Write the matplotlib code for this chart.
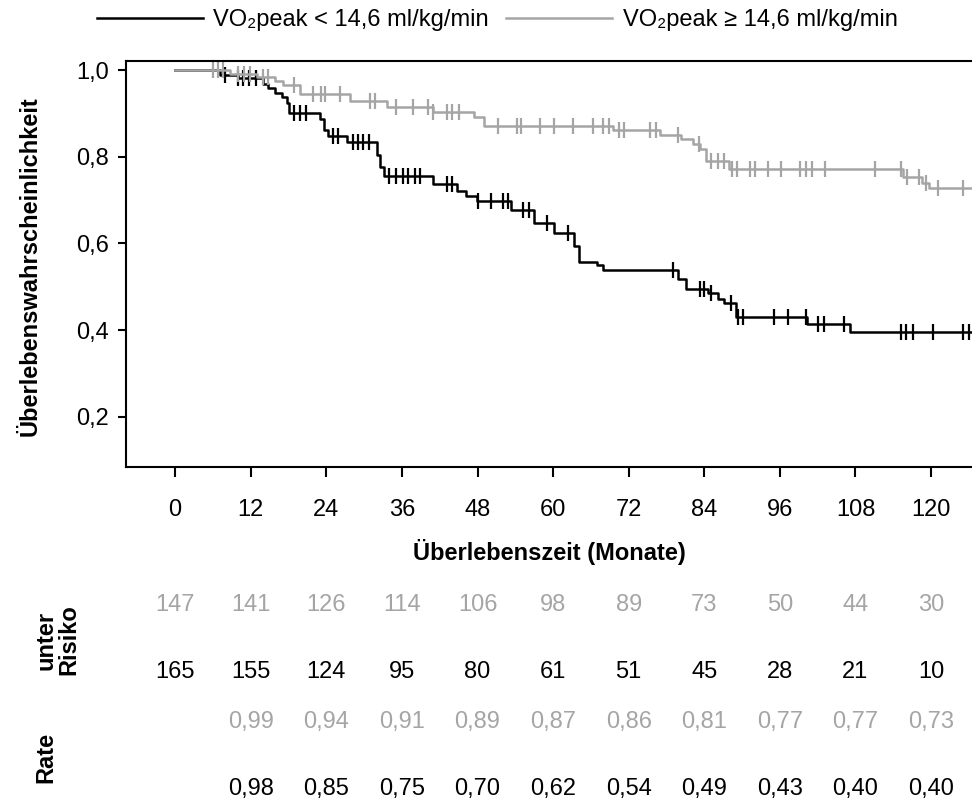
import numpy as np
import matplotlib
matplotlib.use("Agg")
import matplotlib.pyplot as plt
from matplotlib.lines import Line2D
from matplotlib.transforms import blended_transform_factory

plt.rcParams['font.family'] = ['Liberation Sans', 'DejaVu Sans']

# Kaplan-Meier steps (months, survival)
low_t = [0, 7.2, 10.0, 14.0, 14.8, 15.9, 17.0, 17.8, 18.1, 23.0, 23.6, 24.2, 27.3,
         32.1, 32.6, 33.1, 41.0, 44.8, 46.1, 47.9, 53.3, 56.9, 60.1, 63.3, 64.1,
         67.0, 68.0, 79.8, 81.1, 84.6, 86.2, 87.1, 89.0, 100.3, 107.2, 130]
low_s = [1.0, 0.988, 0.982, 0.967, 0.958, 0.947, 0.937, 0.924, 0.901, 0.888, 0.862,
         0.847, 0.835, 0.803, 0.776, 0.756, 0.737, 0.720, 0.710, 0.699, 0.676, 0.646,
         0.625, 0.594, 0.558, 0.551, 0.539, 0.518, 0.495, 0.486, 0.472, 0.463, 0.431,
         0.415, 0.396, 0.396]
low_cens = [7.9, 10.0, 10.8, 11.8, 12.9, 18.8, 19.9, 20.7, 25.1, 25.9, 28.3, 29.1,
            29.9, 30.8, 34.0, 35.0, 36.1, 37.0, 38.0, 38.9, 43.2, 44.0, 48.0, 50.1,
            52.0, 52.9, 55.2, 56.1, 59.1, 62.3, 79.0, 83.3, 84.0, 85.1, 88.2, 89.3,
            90.1, 95.1, 97.3, 100.2, 102.1, 103.0, 106.2, 115.3, 116.1, 117.2, 120.3,
            125.1, 126.1]

high_t = [0, 8.7, 13.0, 15.9, 17.1, 19.9, 27.8, 33.7, 41.0, 47.5, 49.0, 69.5, 76.9,
          80.3, 82.2, 83.3, 84.2, 87.9, 115.6, 118.5, 119.7, 130]
high_s = [1.0, 0.991, 0.985, 0.975, 0.965, 0.944, 0.929, 0.914, 0.903, 0.892, 0.872,
          0.861, 0.850, 0.840, 0.829, 0.817, 0.790, 0.772, 0.753, 0.740, 0.727, 0.727]
high_cens = [6.0, 6.8, 7.6, 10.0, 11.0, 11.9, 14.0, 14.8, 18.8, 21.9, 23.1, 23.8,
             26.1, 31.0, 31.8, 35.0, 37.8, 40.2, 41.0, 43.2, 44.0, 45.0, 51.2, 54.2,
             54.9, 58.0, 60.1, 63.1, 66.3, 68.0, 68.8, 70.4, 71.2, 75.4, 76.3, 79.8,
             83.1, 85.1, 86.2, 87.1, 88.4, 89.2, 91.3, 92.1, 94.1, 96.2, 99.2, 100.2,
             101.1, 103.2, 111.1, 115.3, 116.2, 118.1, 119.2, 121.1, 125.1]

# table below the plot
months = [0, 12, 24, 36, 48, 60, 72, 84, 96, 108, 120]
risk_high = [147, 141, 126, 114, 106, 98, 89, 73, 50, 44, 30]
risk_low = [165, 155, 124, 95, 80, 61, 51, 45, 28, 21, 10]
rate_months = [12, 24, 36, 48, 60, 72, 84, 96, 108, 120]
rate_high = [0.99, 0.94, 0.91, 0.89, 0.87, 0.86, 0.81, 0.77, 0.77, 0.73]
rate_low = [0.98, 0.85, 0.75, 0.70, 0.62, 0.54, 0.49, 0.43, 0.40, 0.40]

label_low = "VO\u2082peak < 14,6 ml/kg/min"
label_high = "VO\u2082peak \u2265 14,6 ml/kg/min"

BLACK = "#000000"
GRAY = "#a5a5a5"
FS = 17


def comma(v, nd):
    return f"{v:.{nd}f}".replace(".", ",")


def surv_at(t, s, x):
    idx = np.searchsorted(t, x, side="right") - 1
    return np.asarray(s)[idx]


W, H = 972, 805
fig = plt.figure(figsize=(W / 100, H / 100), dpi=100)
ax = fig.add_axes([126 / W, 1 - 467 / H, (W - 126) / W, (467 - 61) / H])

for t, s, cens, col in [(low_t, low_s, low_cens, BLACK), (high_t, high_s, high_cens, GRAY)]:
    ax.step(t, s, where="post", color=col, lw=1.8)
    ax.plot(cens, surv_at(t, s, cens), ls="none", marker="|", ms=11, mew=1.6, color=col)

ax.set_xlim(-7.8, 126.5)
ax.set_ylim(0.084, 1.021)
ax.set_xticks(months)
ax.set_xticklabels([str(m) for m in months], fontsize=FS)
yt = [0.2, 0.4, 0.6, 0.8, 1.0]
ax.set_yticks(yt)
ax.set_yticklabels([comma(v, 1) for v in yt], fontsize=FS)
ax.tick_params(axis="x", length=7, width=1.5, pad=16)
ax.tick_params(axis="y", length=6, width=1.5, pad=6)
ax.spines["right"].set_visible(False)
for sp in ["left", "bottom", "top"]:
    ax.spines[sp].set_linewidth(1.5)

ax.set_xlabel("Überlebenszeit (Monate)", fontsize=FS, fontweight="bold", labelpad=13)
fig.text(30 / W, 1 - 266 / H, "Überlebenswahrscheinlichkeit", rotation=90,
         fontsize=FS, fontweight="bold", ha="center", va="center")

# legend
handles = [Line2D([], [], color=BLACK, lw=1.8), Line2D([], [], color=GRAY, lw=1.8)]
fig.legend(handles, [label_low, label_high], loc="center", ncol=2, frameon=False,
           bbox_to_anchor=(497 / W, 1 - 20 / H), fontsize=FS, handlelength=4.5,
           handletextpad=0.45, columnspacing=0.7)

# numbers at risk and rates
tr = blended_transform_factory(ax.transData, fig.transFigure)
rows = [(months, [str(v) for v in risk_high], GRAY, 605),
        (months, [str(v) for v in risk_low], BLACK, 672),
        (rate_months, [comma(v, 2) for v in rate_high], GRAY, 722),
        (rate_months, [comma(v, 2) for v in rate_low], BLACK, 789)]
for xs, labels, col, py in rows:
    for x, lab in zip(xs, labels):
        ax.text(x, 1 - py / H, lab, transform=tr, ha="center", va="center",
                fontsize=FS, color=col, clip_on=False)

fig.text(57 / W, 1 - 640 / H, "unter\nRisiko", rotation=90, fontsize=FS,
         fontweight="bold", ha="center", va="center", multialignment="center",
         linespacing=1.0)
fig.text(46 / W, 1 - 757 / H, "Rate", rotation=90, fontsize=FS,
         fontweight="bold", ha="center", va="center")

fig.savefig("out.png", dpi=100)
